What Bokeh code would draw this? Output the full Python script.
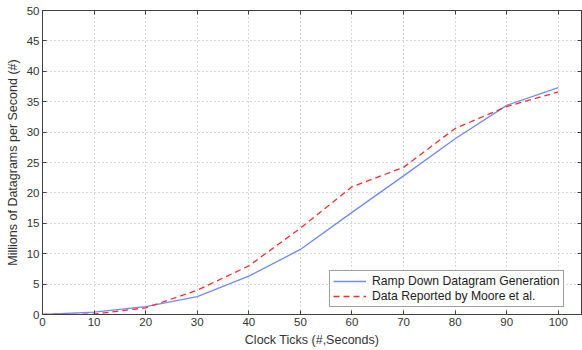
from bokeh.plotting import figure
from bokeh.models import LinearAxis, Range1d, Legend, LegendItem, FixedTicker
from bokeh.embed import file_html
from bokeh.resources import INLINE

clock_ticks = [0, 10, 20, 30, 40, 50, 60, 70, 80, 90, 100]
ramp_down = [0.0, 0.4, 1.3, 2.95, 6.3, 10.7, 16.8, 22.8, 28.9, 34.4, 37.3]
moore = [0.0, 0.05, 1.1, 4.0, 8.0, 14.2, 21.0, 24.2, 30.6, 34.2, 36.6]
x_ticks = [0, 10, 20, 30, 40, 50, 60, 70, 80, 90, 100]
y_ticks = [0, 5, 10, 15, 20, 25, 30, 35, 40, 45, 50]

FONT = "Liberation Sans"
AX = "#404040"

p = figure(width=582, height=350, output_backend="svg", toolbar_location=None,
           x_range=Range1d(0, 104.5), y_range=Range1d(0, 50),
           min_border_left=42, min_border_right=1, min_border_top=10, min_border_bottom=36)
p.background_fill_color = "white"
p.border_fill_color = "white"
p.outline_line_color = AX
p.outline_line_width = 1

for ax in (p.xaxis[0], p.yaxis[0]):
    ax.major_tick_in = 4
    ax.major_tick_out = 0
    ax.minor_tick_in = 0
    ax.minor_tick_out = 0
    ax.axis_line_color = AX
    ax.major_tick_line_color = AX
    ax.major_label_text_font = FONT
    ax.major_label_text_font_size = "11.5px"
    ax.major_label_text_color = "#333333"
    ax.axis_label_text_font = FONT
    ax.axis_label_text_font_size = "12.5px"
    ax.axis_label_text_font_style = "normal"
    ax.axis_label_text_color = "#333333"

p.xaxis.ticker = FixedTicker(ticks=x_ticks)
p.yaxis.ticker = FixedTicker(ticks=y_ticks)
p.xaxis.axis_label = "Clock Ticks (#,Seconds)"
p.yaxis.axis_label = "Millions of Datagrams per Second (#)"
p.xaxis.major_label_standoff = 3
p.yaxis.major_label_standoff = 3
p.xaxis.axis_label_standoff = 4
p.yaxis.axis_label_standoff = 4

for loc, tick in (("above", x_ticks), ("right", y_ticks)):
    a = LinearAxis(ticker=FixedTicker(ticks=tick),
                   major_label_overrides={t: "" for t in tick},
                   major_tick_in=4, major_tick_out=0, minor_tick_in=0, minor_tick_out=0,
                   axis_line_color=AX, major_tick_line_color=AX, major_label_standoff=0)
    p.add_layout(a, loc)

p.xgrid.grid_line_color = "#b0b0b0"
p.ygrid.grid_line_color = "#b0b0b0"
p.xgrid.grid_line_dash = "1 3"
p.ygrid.grid_line_dash = "1 3"
p.xgrid.ticker = FixedTicker(ticks=x_ticks)
p.ygrid.ticker = FixedTicker(ticks=y_ticks)

r1 = p.line(clock_ticks, ramp_down, line_color="#6f8cff", line_width=1.3)
r2 = p.line(clock_ticks, moore, line_color="#ff2a2a", line_width=1.3, line_dash="6 4")

legend = Legend(items=[LegendItem(label="Ramp Down Datagram Generation", renderers=[r1]),
                       LegendItem(label="Data Reported by Moore et al.", renderers=[r2])],
                location=(287, 7))
legend.label_text_font = FONT
legend.label_text_font_size = "12.2px"
legend.label_text_color = "#222222"
legend.border_line_color = AX
legend.border_line_width = 1
legend.glyph_width = 33
legend.glyph_height = 12
legend.label_height = 12
legend.spacing = 1
legend.padding = 3
legend.margin = 0
legend.label_standoff = 6
legend.background_fill_alpha = 1
p.add_layout(legend)

open("out.html", "w").write(file_html(p, INLINE))
